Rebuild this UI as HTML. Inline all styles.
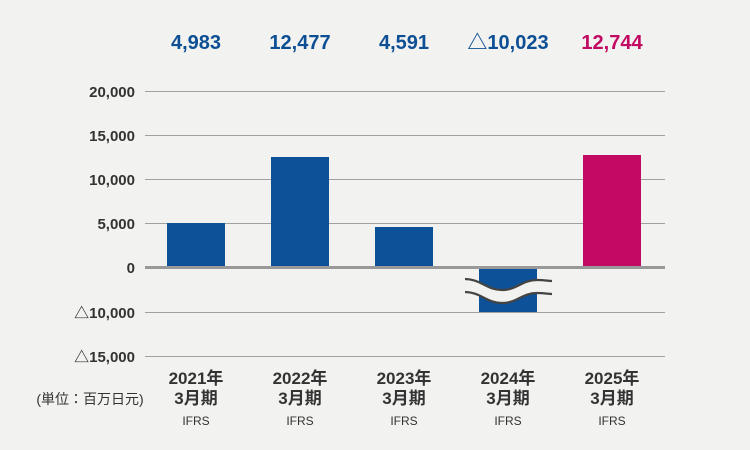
<!DOCTYPE html>
<html><head><meta charset="utf-8"><style>
body{margin:0;background:#f2f2f0;}
svg{display:block;font-family:"Liberation Sans","Noto Sans CJK JP",sans-serif;}
</style></head><body>
<svg width="750" height="450" viewBox="0 0 750 450">
<rect width="750" height="450" fill="#f2f2f0"/>
<g font-size="20" font-weight="bold" text-anchor="middle">
<text x="196" y="49" fill="#0d4f94">4,983</text>
<text x="300" y="49" fill="#0d4f94">12,477</text>
<text x="404" y="49" fill="#0d4f94">4,591</text>
<text x="508" y="49" fill="#0d4f94">△10,023</text>
<text x="612" y="49" fill="#c20a63">12,744</text>
</g>
<g stroke="#a0a0a0" stroke-width="1">
<line x1="145" x2="665" y1="91.5" y2="91.5"/>
<line x1="145" x2="665" y1="135.5" y2="135.5"/>
<line x1="145" x2="665" y1="179.5" y2="179.5"/>
<line x1="145" x2="665" y1="223.5" y2="223.5"/>
<line x1="145" x2="665" y1="312.5" y2="312.5"/>
<line x1="145" x2="665" y1="356.5" y2="356.5"/>
</g>
<rect x="167" y="223" width="58" height="44" fill="#0d5199"/>
<rect x="271" y="157" width="58" height="110" fill="#0d5199"/>
<rect x="375" y="227" width="58" height="40" fill="#0d5199"/>
<rect x="479" y="268" width="58" height="44" fill="#0d5199"/>
<rect x="583" y="155" width="58" height="112" fill="#c20a63"/>
<path d="M465 279 C480 279,487 290,502 290 C517 290,522 280,537 280 C545 280,548 281,552 281 L552 294 C548 294,545 293,537 293 C522 293,517 303,502 303 C487 303,480 292,465 292 Z" fill="#f2f2f0"/>
<path d="M465 279 C480 279,487 290,502 290 C517 290,522 280,537 280 C545 280,548 281,552 281" fill="none" stroke="#444" stroke-width="2.2"/>
<path d="M465 292 C480 292,487 303,502 303 C517 303,522 293,537 293 C545 293,548 294,552 294" fill="none" stroke="#444" stroke-width="2.2"/>
<line x1="145" x2="665" y1="267.5" y2="267.5" stroke="#999" stroke-width="3"/>
<g font-size="15" font-weight="bold" fill="#333" text-anchor="end">
<text x="135" y="97">20,000</text>
<text x="135" y="141">15,000</text>
<text x="135" y="185">10,000</text>
<text x="135" y="229">5,000</text>
<text x="135" y="273">0</text>
<text x="135" y="318">△10,000</text>
<text x="135" y="362">△15,000</text>
</g>
<text x="90" y="404" font-size="14" fill="#333" text-anchor="middle">(単位：百万日元)</text>
<g text-anchor="middle" fill="#333">
<g font-size="17" font-weight="bold">
<text x="196" y="384">2021年</text><text x="196" y="404">3月期</text>
<text x="300" y="384">2022年</text><text x="300" y="404">3月期</text>
<text x="404" y="384">2023年</text><text x="404" y="404">3月期</text>
<text x="508" y="384">2024年</text><text x="508" y="404">3月期</text>
<text x="612" y="384">2025年</text><text x="612" y="404">3月期</text>
</g>
<g font-size="12">
<text x="196" y="425">IFRS</text><text x="300" y="425">IFRS</text><text x="404" y="425">IFRS</text><text x="508" y="425">IFRS</text><text x="612" y="425">IFRS</text>
</g>
</g>
</svg>
</body></html>
